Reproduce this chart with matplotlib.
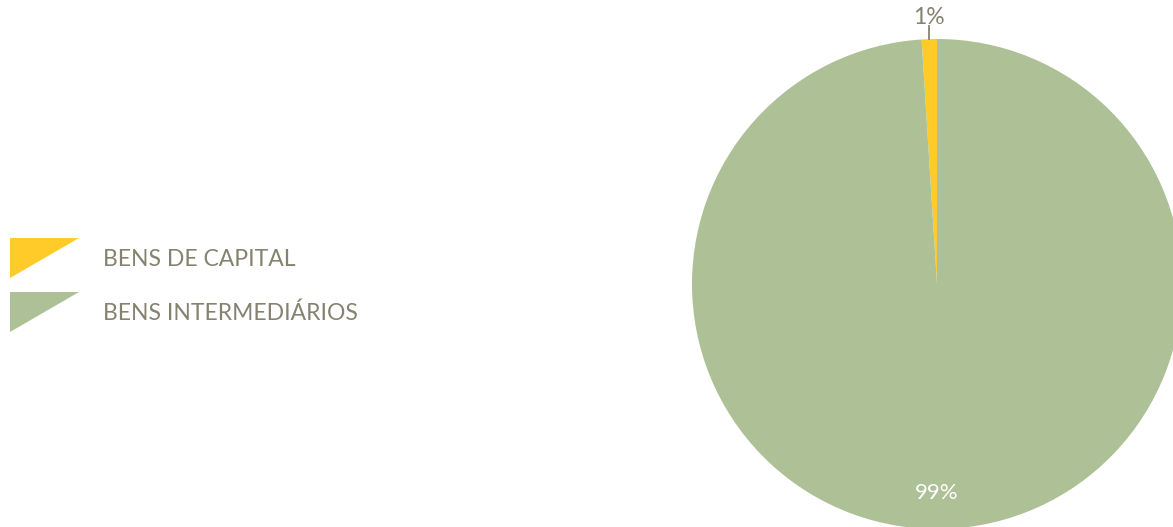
import numpy as np
import matplotlib.pyplot as plt
from matplotlib.patches import Polygon

# data
categories = ['BENS DE CAPITAL', 'BENS INTERMEDIÁRIOS']
shares = [1, 99]
labels = ['1%', '99%']
colors = ['#FFCB29', '#ADC096']
text_grey = '#858270'

plt.rcParams['font.family'] = ['Lato', 'DejaVu Sans']

W, H = 1173, 527
fig = plt.figure(figsize=(W / 100, H / 100), dpi=100)
ax = fig.add_axes([0, 0, 1, 1])

cx, cy, r = 937, H - 284, 245
ax.pie(shares, colors=colors, startangle=90, counterclock=True,
       center=(cx, cy), radius=r, frame=True,
       wedgeprops=dict(linewidth=0))
ax.set_xlim(0, W)
ax.set_ylim(0, H)
ax.set_aspect('equal')
ax.axis('off')

# small slice label with leader line
ang = np.deg2rad(90 + shares[0] / sum(shares) * 360 / 2)
x0, y0 = cx + r * np.cos(ang), cy + r * np.sin(ang)
ax.plot([x0, x0], [y0, y0 + 13], color=text_grey, lw=1.3)
ax.text(x0, y0 + 15, labels[0], ha='center', va='baseline', fontsize=16.5, color=text_grey)

# big slice label inside near bottom
ax.text(cx, H - 493, labels[1], ha='center', va='center', fontsize=16, color='white')

# legend with triangle swatches
for i, (cat, col) in enumerate(zip(categories, colors)):
    top = H - 238 - i * 54
    tri = Polygon([[10, top], [79, top], [10, top - 40]], closed=True, color=col, lw=0)
    ax.add_patch(tri)
    ax.text(103, top - 21, cat, ha='left', va='center', fontsize=16.5, color=text_grey)

fig.savefig('out.png', dpi=100)
